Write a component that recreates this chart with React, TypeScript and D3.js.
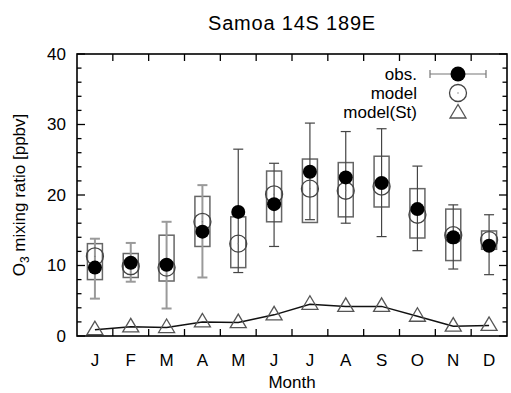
import React from "react";
import * as d3 from "d3";

// monthly ozone at Samoa
const months = ["J", "F", "M", "A", "M", "J", "J", "A", "S", "O", "N", "D"];
const obsMean = [9.7, 10.4, 10.1, 14.8, 17.6, 18.7, 23.3, 22.5, 21.7, 18.0, 14.0, 12.8];
const obsHigh = [13.8, 13.2, 16.2, 21.4, 26.5, 24.5, 30.2, 29.0, 29.4, 24.1, 18.6, 17.2];
const obsLow = [5.3, 7.7, 3.9, 8.3, 9.0, 12.7, 16.5, 16.0, 14.1, 12.1, 9.5, 8.7];
const modelMean = [11.3, 9.9, 9.7, 16.2, 13.1, 20.1, 20.9, 20.6, 21.2, 17.2, 14.3, 13.6];
const modelHigh = [13.1, 11.7, 14.3, 19.8, 16.9, 23.4, 25.1, 24.6, 25.5, 20.9, 18.0, 14.9];
const modelLow = [8.0, 8.3, 7.8, 12.7, 9.7, 16.2, 16.1, 16.9, 18.3, 13.9, 10.7, 12.3];
const modelSt = [0.9, 1.3, 1.2, 2.0, 1.9, 3.0, 4.5, 4.2, 4.2, 2.8, 1.4, 1.5];
const yTicks = [0, 10, 20, 30, 40];

const W = 511;
const H = 393;
const font = "'Liberation Sans', Arial, sans-serif";

export default function App() {
  const margin = { left: 77, right: 4, top: 54, bottom: 57 };
  const x = d3.scaleLinear().domain([0.5, 12.5]).range([margin.left, W - margin.right]);
  const y = d3.scaleLinear().domain([0, 40]).range([H - margin.bottom, margin.top]);
  const [x0, x1] = x.range();
  const [y0, y1] = y.range();

  const line = d3
    .line<number>()
    .x((_, i) => x(i + 1))
    .y((d) => y(d));

  const tri = (cx: number, cy: number) =>
    `M${cx},${cy - 8.5}L${cx - 8},${cy + 5}L${cx + 8},${cy + 5}Z`;

  const minor = d3.range(0, 41, 2);
  const monthEdges = d3.range(1.5, 12, 1);
  const cap = 5;
  const halfBox = 7.5;

  return (
    <svg
      width={W}
      height={H}
      style={{ position: "absolute", left: 0, top: 0, background: "#fff" }}
      fontFamily={font}
    >
      <text x={(x0 + x1) / 2} y={30} textAnchor="middle" fontSize={20} letterSpacing={0.8}>
        Samoa 14S 189E
      </text>

      {/* ticks */}
      {monthEdges.map((m) => (
        <g key={"xt" + m} stroke="#000" strokeWidth={1.3}>
          <line x1={x(m)} x2={x(m)} y1={y0} y2={y0 - 7} />
          <line x1={x(m)} x2={x(m)} y1={y1} y2={y1 + 7} />
        </g>
      ))}
      {minor.map((v) => {
        const len = v % 10 === 0 ? 8 : 4.5;
        return (
          <g key={"yt" + v} stroke="#000" strokeWidth={1.3}>
            <line x1={x0} x2={x0 + len} y1={y(v)} y2={y(v)} />
            <line x1={x1} x2={x1 - len} y1={y(v)} y2={y(v)} />
          </g>
        );
      })}

      {yTicks.map((v) => (
        <text key={"yl" + v} x={66} y={y(v)} textAnchor="end" dominantBaseline="central" fontSize={17}>
          {v}
        </text>
      ))}
      {months.map((m, i) => (
        <text key={"xl" + i} x={x(i + 1)} y={366} textAnchor="middle" fontSize={17}>
          {m}
        </text>
      ))}
      <text x={(x0 + x1) / 2} y={388} textAnchor="middle" fontSize={17}>
        Month
      </text>
      <text
        transform={`translate(25,${(y0 + y1) / 2}) rotate(-90)`}
        textAnchor="middle"
        fontSize={17}
      >
        O<tspan fontSize={12} dy={4}>3</tspan>
        <tspan dy={-4}> mixing ratio [ppbv]</tspan>
      </text>

      {/* model boxes */}
      {months.map((_, i) => (
        <rect
          key={"box" + i}
          x={x(i + 1) - halfBox}
          y={y(modelHigh[i])}
          width={halfBox * 2}
          height={y(modelLow[i]) - y(modelHigh[i])}
          fill="none"
          stroke="#666"
          strokeWidth={1.5}
        />
      ))}

      {/* obs error bars */}
      {months.map((_, i) => {
        const cx = x(i + 1);
        const col = i < 4 ? "#9a9a9a" : "#444";
        return (
          <g key={"err" + i} stroke={col} strokeWidth={i < 4 ? 2 : 1.2}>
            <line x1={cx} x2={cx} y1={y(obsHigh[i])} y2={y(obsLow[i])} />
            <line x1={cx - cap} x2={cx + cap} y1={y(obsHigh[i])} y2={y(obsHigh[i])} />
            <line x1={cx - cap} x2={cx + cap} y1={y(obsLow[i])} y2={y(obsLow[i])} />
          </g>
        );
      })}

      {/* model St line + triangles */}
      <path d={line(modelSt) ?? ""} fill="none" stroke="#111" strokeWidth={1.5} />
      {modelSt.map((v, i) => (
        <path key={"tri" + i} d={tri(x(i + 1), y(v))} fill="none" stroke="#555" strokeWidth={1.3} />
      ))}

      {/* model circles */}
      {modelMean.map((v, i) => (
        <g key={"mc" + i}>
          <circle cx={x(i + 1)} cy={y(v)} r={8.5} fill="none" stroke="#444" strokeWidth={1.3} />
          <circle cx={x(i + 1)} cy={y(v)} r={0.7} fill="#777" />
        </g>
      ))}

      {/* obs points */}
      {obsMean.map((v, i) => (
        <circle key={"ob" + i} cx={x(i + 1)} cy={y(v)} r={7} fill="#000" />
      ))}

      {/* legend */}
      <g fontSize={17} textAnchor="end">
        <text x={417} y={74} dominantBaseline="central">obs.</text>
        <text x={417} y={93} dominantBaseline="central">model</text>
        <text x={417} y={112} dominantBaseline="central">model(St)</text>
      </g>
      <g stroke="#777" strokeWidth={1.2}>
        <line x1={430} x2={486} y1={74} y2={74} />
        <line x1={430} x2={430} y1={70} y2={78} />
        <line x1={486} x2={486} y1={70} y2={78} />
      </g>
      <circle cx={458} cy={74} r={7.5} fill="#000" />
      <circle cx={458} cy={93} r={8.5} fill="none" stroke="#444" strokeWidth={1.3} />
      <circle cx={458} cy={93} r={0.7} fill="#777" />
      <path d={tri(458, 113)} fill="none" stroke="#555" strokeWidth={1.3} />

      {/* frame */}
      <rect x={x0} y={y1} width={x1 - x0} height={y0 - y1} fill="none" stroke="#000" strokeWidth={1.6} />
    </svg>
  );
}
